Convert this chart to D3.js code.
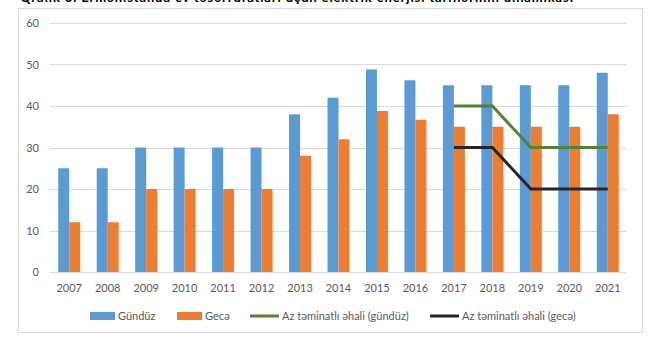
<!doctype html>
<html lang="az">
<head>
    <meta charset="utf-8">
    <script src="https://d3js.org/d3.v7.min.js"></script>
    <style>
        body { margin: 0; background: #fff; }
        text { font-family: Lato, "Open Sans", sans-serif; }
    </style>
</head>
<body>
    <script>
        // Data
        const years   = ["2007","2008","2009","2010","2011","2012","2013","2014","2015","2016","2017","2018","2019","2020","2021"];
        const gunduz  = [25, 25, 30, 30, 30, 30, 38, 42, 48.8, 46.2, 45, 45, 45, 45, 48];
        const gece    = [12, 12, 20, 20, 20, 20, 28, 32, 38.8, 36.7, 35, 35, 35, 35, 38];
        const lineYears   = ["2017","2018","2019","2020","2021"];
        const azGunduz    = [40, 40, 30, 30, 30];
        const azGece      = [30, 30, 20, 20, 20];
        const yTicks      = [0, 10, 20, 30, 40, 50, 60];
        const seriesNames = ["Gündüz", "Gecə", "Az təminatlı əhali (gündüz)", "Az təminatlı əhali (gecə)"];
        const title = "Qrafik 3. Ermənistanda ev təsərrüfatları üçün elektrik enerjisi tariflərinin dinamikası";

        // Set Dimensions
        const W = 658, H = 340;
        const plotL = 50, plotR = 627, plotT = 23, plotB = 272;

        const svg = d3.select("body").append("svg")
            .attr("width", W).attr("height", H);

        // title (cut off at top like the source)
        svg.append("text")
            .attr("x", 20).attr("y", 2)
            .attr("font-size", 13).attr("font-weight", "bold")
            .attr("textLength", 553)
            .attr("fill", "#000")
            .text(title);

        // frame
        svg.append("rect")
            .attr("x", 18.5).attr("y", 8.5)
            .attr("width", 624).attr("height", 324)
            .attr("fill", "none").attr("stroke", "#d9d9d9");

        // scales
        const x = d3.scaleBand().domain(years).range([plotL, plotR]);
        const bw = x.bandwidth();
        const xs = d3.scaleBand().domain(["g", "n"]).range([bw/2 - 11, bw/2 + 11]);
        const y = d3.scaleLinear().domain([0, 60]).range([plotB, plotT]);

        // grid
        svg.append("g").selectAll("line").data(yTicks).join("line")
            .attr("x1", plotL).attr("x2", plotR)
            .attr("y1", d => Math.round(y(d)) + 0.5).attr("y2", d => Math.round(y(d)) + 0.5)
            .attr("stroke", "#d9d9d9").attr("stroke-width", 1);

        // y labels
        svg.append("g").selectAll("text").data(yTicks).join("text")
            .attr("x", 39).attr("y", d => y(d) + 4)
            .attr("text-anchor", "end")
            .attr("font-size", 11).attr("fill", "#595959")
            .text(d => d);

        // bars
        const bars = years.map((yr, i) => ({ yr, g: gunduz[i], n: gece[i] }));
        svg.append("g").selectAll("rect").data(bars).join("rect")
            .attr("x", d => x(d.yr) + xs("g"))
            .attr("y", d => y(d.g))
            .attr("width", xs.bandwidth())
            .attr("height", d => y(0) - y(d.g))
            .attr("fill", "#5b9bd5");
        svg.append("g").selectAll("rect").data(bars).join("rect")
            .attr("x", d => x(d.yr) + xs("n"))
            .attr("y", d => y(d.n))
            .attr("width", xs.bandwidth())
            .attr("height", d => y(0) - y(d.n))
            .attr("fill", "#ed7d31");

        // lines
        const line = d3.line()
            .x(d => x(d.yr) + bw/2)
            .y(d => y(d.v));
        svg.append("path")
            .datum(lineYears.map((yr, i) => ({ yr, v: azGunduz[i] })))
            .attr("fill", "none").attr("stroke", "#548235").attr("stroke-width", 3)
            .attr("d", line);
        svg.append("path")
            .datum(lineYears.map((yr, i) => ({ yr, v: azGece[i] })))
            .attr("fill", "none").attr("stroke", "#262626").attr("stroke-width", 3)
            .attr("d", line);

        // x labels
        svg.append("g").selectAll("text").data(years).join("text")
            .attr("x", d => x(d) + bw/2).attr("y", 292)
            .attr("text-anchor", "middle")
            .attr("font-size", 11).attr("fill", "#595959")
            .text(d => d);

        // legend
        const legY = 316;
        const leg = [
            { name: seriesNames[0], type: "rect", color: "#5b9bd5", x0: 90,  w: 25 },
            { name: seriesNames[1], type: "rect", color: "#ed7d31", x0: 177, w: 25 },
            { name: seriesNames[2], type: "line", color: "#548235", x0: 250, w: 29 },
            { name: seriesNames[3], type: "line", color: "#262626", x0: 430, w: 29 }
        ];
        const lg = svg.append("g").selectAll("g").data(leg).join("g");
        lg.filter(d => d.type === "rect").append("rect")
            .attr("x", d => d.x0).attr("y", legY - 4)
            .attr("width", d => d.w).attr("height", 8)
            .attr("fill", d => d.color);
        lg.filter(d => d.type === "line").append("line")
            .attr("x1", d => d.x0).attr("x2", d => d.x0 + d.w)
            .attr("y1", legY).attr("y2", legY)
            .attr("stroke", d => d.color).attr("stroke-width", 3);
        lg.append("text")
            .attr("x", d => d.x0 + d.w + 3).attr("y", legY + 4)
            .attr("font-size", 11).attr("fill", "#595959")
            .text(d => d.name);
    </script>
</body>
</html>
